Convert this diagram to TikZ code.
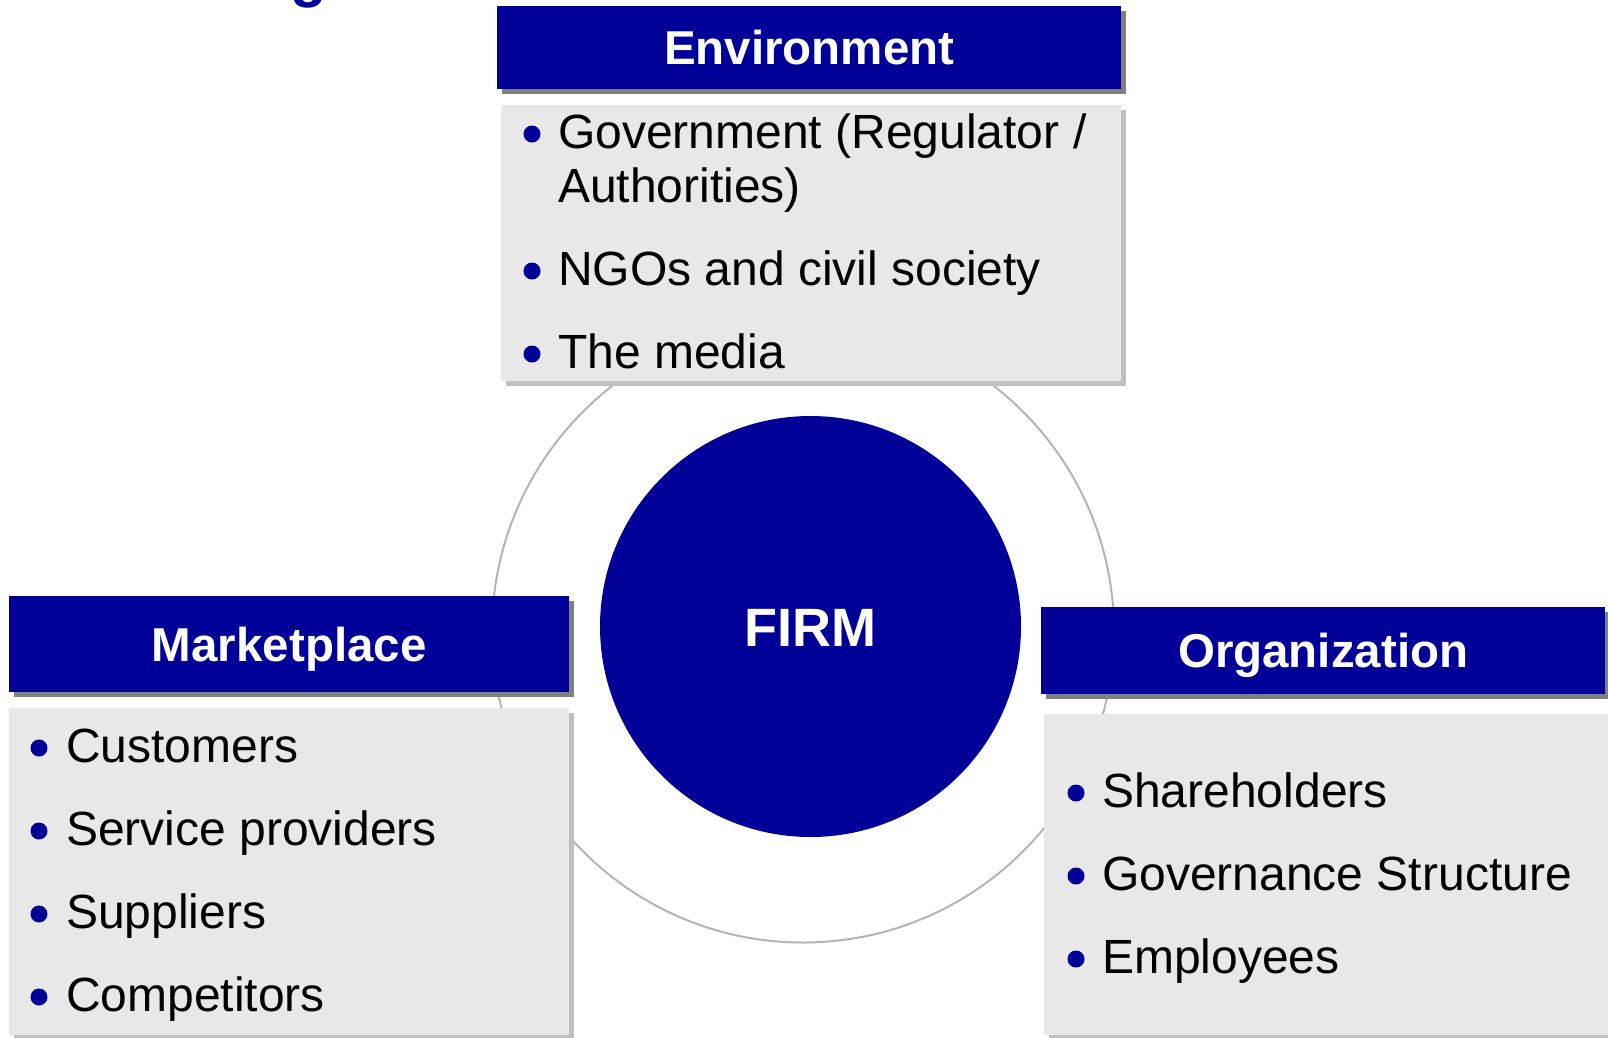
\documentclass[tikz,border=0pt]{standalone}
\usepackage{fontspec}
\setmainfont{Liberation Sans}
\usetikzlibrary{shadows}

\begin{document}
\begin{tikzpicture}[x=1pt, y=-1pt,
    header/.style={fill=firm_blue, text=white, inner sep=0pt, anchor=north west,
        font=\bfseries\fontsize{47.5}{55}\selectfont, text height=34pt, text depth=0pt,
        drop shadow={shadow xshift=5pt, shadow yshift=-5pt, fill=head_shadow, opacity=1}},
    listbox/.style={fill=list_gray, inner sep=0pt, anchor=north west,
        drop shadow={shadow xshift=5pt, shadow yshift=-5pt, fill=list_shadow, opacity=1}},
    item/.style={anchor=base west, inner sep=0pt, font=\fontsize{48}{55}\selectfont}]
    \definecolor{firm_blue}{HTML}{000099}
    \definecolor{head_shadow}{HTML}{808080}
    \definecolor{list_gray}{HTML}{E8E8E8}
    \definecolor{list_shadow}{HTML}{C0C0C0}
    \definecolor{ring_gray}{HTML}{B4B4B4}
    %\draw[help lines, step=100] (0,0) grid (1608,1037);
    \useasboundingbox (0,0) rectangle (1608,1037);

    \node[anchor=base, inner sep=0pt, text=firm_blue, font=\bfseries\fontsize{60}{70}\selectfont] (title) at (309,-5) {g};

    \node[circle, draw=ring_gray, line width=2pt, minimum size=622pt] (ring) at (803,631.5) {};

    % Environment
    \node[header, minimum width=624, minimum height=83] (env) at (497,6) {Environment};
    \node[listbox, minimum width=620, minimum height=276] (envlist) at (501,105) {};
    \fill[firm_blue] (532,134) circle (8.5pt);
    \node[item] (gov) at (558,148) {Government (Regulator /};
    \node[item] (auth) at (558,202) {Authorities)};
    \foreach \nm/\yy/\lbl in {ngo/285/NGOs and civil society, media/368/The media} {
        \fill[firm_blue] (532,\yy-14) circle (8.5pt);
        \node[item] (\nm) at (558,\yy) {\lbl};
    }

    % Marketplace
    \node[header, minimum width=560, minimum height=96] (market) at (9,596) {Marketplace};
    \node[listbox, minimum width=560, minimum height=327] (marketlist) at (9,708) {};
    \foreach \nm/\yy/\lbl in {cust/762/Customers, serv/845/Service providers,
                              supp/928/Suppliers, comp/1011/Competitors} {
        \fill[firm_blue] (39,\yy-14) circle (8.5pt);
        \node[item] (\nm) at (66,\yy) {\lbl};
    }

    % Organization
    \node[header, minimum width=564, minimum height=87] (org) at (1041,607) {Organization};
    \node[listbox, minimum width=600, minimum height=321] (orglist) at (1044,714) {};
    \foreach \nm/\yy/\lbl in {share/807/Shareholders, govern/890/Governance Structure,
                              empl/973/Employees} {
        \fill[firm_blue] (1076,\yy-14) circle (8.5pt);
        \node[item] (\nm) at (1102,\yy) {\lbl};
    }

    \node[circle, fill=firm_blue, minimum size=421pt, text=white, inner sep=0pt,
        font=\bfseries\fontsize{54}{60}\selectfont, text height=39pt, text depth=0pt] (firm) at (810.5,626.5) {FIRM};
\end{tikzpicture}
\end{document}
